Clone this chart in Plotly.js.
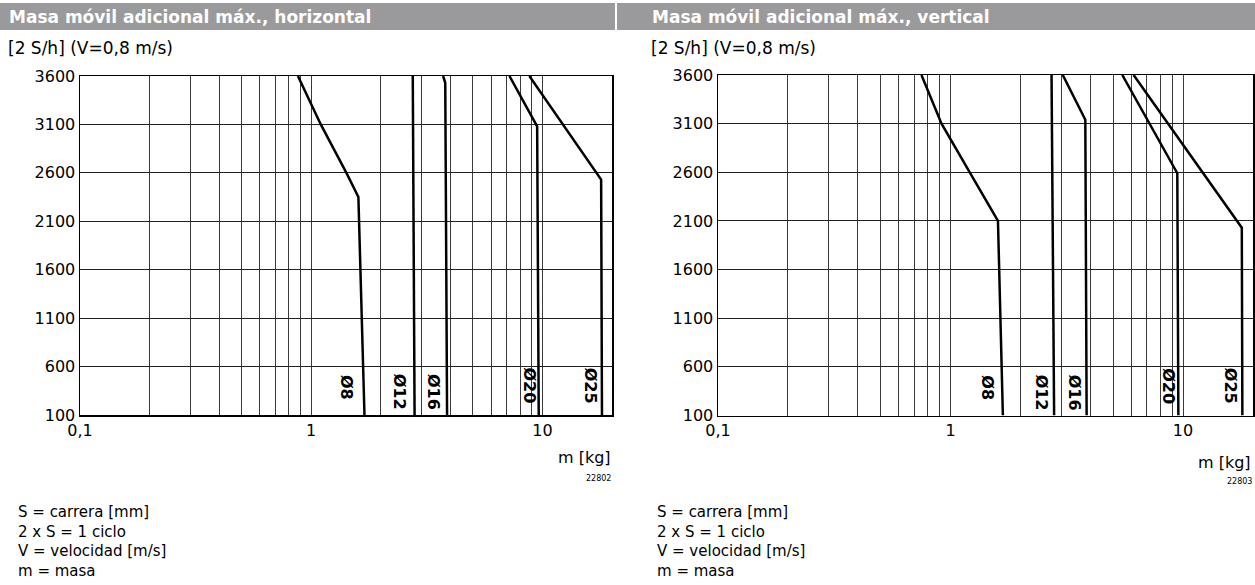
<!DOCTYPE html>
<html>
<head>
<meta charset="utf-8">
<script src="https://cdn.plot.ly/plotly-3.0.1.min.js"></script>
<style>
  html, body { margin: 0; padding: 0; background: #fff; }
  #chart { width: 1255px; height: 585px; }
</style>
</head>
<body>
<div id="chart"></div>
<script>
// ---------- data ----------
const panelTitles = ['Masa móvil adicional máx., horizontal', 'Masa móvil adicional máx., vertical'];
const subtitle = '[2 S/h] (V=0,8 m/s)';
const xAxisTitle = 'm [kg]';
const figureCodes = ['22802', '22803'];
const notes = ['S = carrera [mm]', '2 x S = 1 ciclo', 'V = velocidad [m/s]', 'm = masa'];
const diameters = ['Ø8', 'Ø12', 'Ø16', 'Ø20', 'Ø25'];

const xTickVals = [0.1,0.2,0.3,0.4,0.5,0.6,0.7,0.8,0.9,1,2,3,4,5,6,7,8,9,10,20];
const xTickLabels = {0.1: '0,1', 1: '1', 10: '10'};
const yTickVals = [100, 600, 1100, 1600, 2100, 2600, 3100, 3600];

// horizontal mounting: mass m [kg] (x) vs cycles per hour (y)
const hor8x  = [0.876, 1.10, 1.42, 1.60, 1.70];
const hor8y  = [3600, 3100, 2600, 2350, 100];
const hor12x = [2.75, 2.80];
const hor12y = [3600, 100];
const hor16x = [3.72, 3.80, 3.87];
const hor16y = [3600, 3530, 100];
const hor20x = [7.20, 9.49, 9.64];
const hor20y = [3600, 3080, 100];
const hor25x = [8.78, 17.95, 18.1];
const hor25y = [3600, 2530, 100];

// vertical mounting
const ver8x  = [0.75, 0.915, 1.21, 1.60, 1.68];
const ver8y  = [3600, 3100, 2600, 2100, 100];
const ver12x = [2.72, 2.79];
const ver12y = [3600, 100];
const ver16x = [3.04, 3.80, 3.85];
const ver16y = [3600, 3140, 100];
const ver20x = [5.48, 9.45, 9.55];
const ver20y = [3600, 2590, 100];
const ver25x = [6.13, 17.9, 18.0];
const ver25y = [3600, 2030, 100];

// label anchor (value along m axis) for each diameter tag
const horLabelX = [1.43, 2.43, 3.40, 8.79, 16.1];
const verLabelX = [1.45, 2.47, 3.42, 8.71, 16.0];
const labelY = [389, 337, 337, 400, 400];

// ---------- drawing ----------
const W = 1255, H = 585;
const px = v => v / W;
const py = v => 1 - v / H;
const FONT = 'DejaVu Sans, Liberation Sans, Arial, sans-serif';

const horSeries = [[hor8x,hor8y],[hor12x,hor12y],[hor16x,hor16y],[hor20x,hor20y],[hor25x,hor25y]];
const verSeries = [[ver8x,ver8y],[ver12x,ver12y],[ver16x,ver16y],[ver20x,ver20y],[ver25x,ver25y]];

const traces = [];
horSeries.forEach((s, i) => traces.push({
  x: s[0], y: s[1], xaxis: 'x', yaxis: 'y', type: 'scatter', mode: 'lines',
  name: diameters[i], line: {color: '#000', width: 2.5}, hoverinfo: 'skip'
}));
verSeries.forEach((s, i) => traces.push({
  x: s[0], y: s[1], xaxis: 'x2', yaxis: 'y2', type: 'scatter', mode: 'lines',
  name: diameters[i], line: {color: '#000', width: 2.5}, hoverinfo: 'skip'
}));

function xAxis(domain, anchor) {
  return {
    domain: domain, anchor: anchor, type: 'log',
    range: [-1, Math.log10(20)],
    tickmode: 'array', tickvals: xTickVals,
    ticktext: xTickVals.map(v => xTickLabels[v] || ''),
    ticks: '', showgrid: true, gridcolor: '#3a3a3a', gridwidth: 1,
    showline: true, linecolor: '#000', linewidth: 1.5, mirror: true,
    zeroline: false, tickfont: {family: FONT, size: 16, color: '#000'},
    fixedrange: true
  };
}
function yAxis(domain, anchor) {
  return {
    domain: domain, anchor: anchor, range: [100, 3600],
    tickmode: 'array', tickvals: yTickVals, ticktext: yTickVals.map(String),
    ticks: '', showgrid: true, gridcolor: '#222', gridwidth: 1,
    showline: true, linecolor: '#000', linewidth: 1.5, mirror: true,
    zeroline: false, tickfont: {family: FONT, size: 16, color: '#000'},
    fixedrange: true
  };
}

const annotations = [];
function textAnn(text, x, y, opts) {
  annotations.push(Object.assign({
    text: text, xref: 'paper', yref: 'paper', x: px(x), y: py(y),
    xanchor: 'left', yanchor: 'middle', showarrow: false,
    font: {family: FONT, size: 16, color: '#000'}
  }, opts || {}));
}

// headers
textAnn(panelTitles[0], 7, 17, {font: {family: FONT, size: 17, color: '#fff', weight: 'bold'}});
textAnn(panelTitles[1], 650, 17, {font: {family: FONT, size: 17, color: '#fff', weight: 'bold'}});
// subtitles
textAnn(subtitle, 6, 48, {font: {family: FONT, size: 17, color: '#000'}});
textAnn(subtitle, 649, 48, {font: {family: FONT, size: 17, color: '#000'}});
// axis titles
textAnn(xAxisTitle, 613, 457, {xanchor: 'right'});
textAnn(xAxisTitle, 1253, 462, {xanchor: 'right'});
textAnn(figureCodes[0], 613, 478, {xanchor: 'right', font: {family: FONT, size: 8, color: '#000'}});
textAnn(figureCodes[1], 1254, 481, {xanchor: 'right', font: {family: FONT, size: 8, color: '#000'}});
// notes
notes.forEach((t, i) => {
  textAnn(t, 16, 512 + i * 19.5, {font: {family: FONT, size: 15, color: '#000'}});
  textAnn(t, 655, 512 + i * 19.5, {font: {family: FONT, size: 15, color: '#000'}});
});
// diameter tags
diameters.forEach((d, i) => {
  annotations.push({text: d, xref: 'x', yref: 'y', x: Math.log10(horLabelX[i]), y: labelY[i],
    textangle: 90, showarrow: false, xanchor: 'center', yanchor: 'middle',
    font: {family: FONT, size: 16, color: '#000', weight: 'bold'}});
  annotations.push({text: d, xref: 'x2', yref: 'y2', x: Math.log10(verLabelX[i]), y: labelY[i],
    textangle: 90, showarrow: false, xanchor: 'center', yanchor: 'middle',
    font: {family: FONT, size: 16, color: '#000', weight: 'bold'}});
});

const shapes = [
  {type: 'rect', xref: 'paper', yref: 'paper', x0: 0, x1: px(615), y0: py(30), y1: py(3),
   fillcolor: '#9a9a9c', line: {width: 0}, layer: 'below'},
  {type: 'rect', xref: 'paper', yref: 'paper', x0: px(617), x1: 1, y0: py(30), y1: py(3),
   fillcolor: '#9a9a9c', line: {width: 0}, layer: 'below'}
];

const layout = {
  width: W, height: H, margin: {l: 0, r: 0, t: 0, b: 0, pad: 0},
  paper_bgcolor: '#fff', plot_bgcolor: '#fff', showlegend: false,
  font: {family: FONT, color: '#000'},
  xaxis: xAxis([px(80), px(612)], 'y'),
  yaxis: yAxis([py(415), py(76)], 'x'),
  xaxis2: xAxis([px(718), px(1253)], 'y2'),
  yaxis2: yAxis([py(415.5), py(75)], 'x2'),
  annotations: annotations, shapes: shapes
};

Plotly.newPlot('chart', traces, layout, {staticPlot: true, displayModeBar: false});
</script>
</body>
</html>
